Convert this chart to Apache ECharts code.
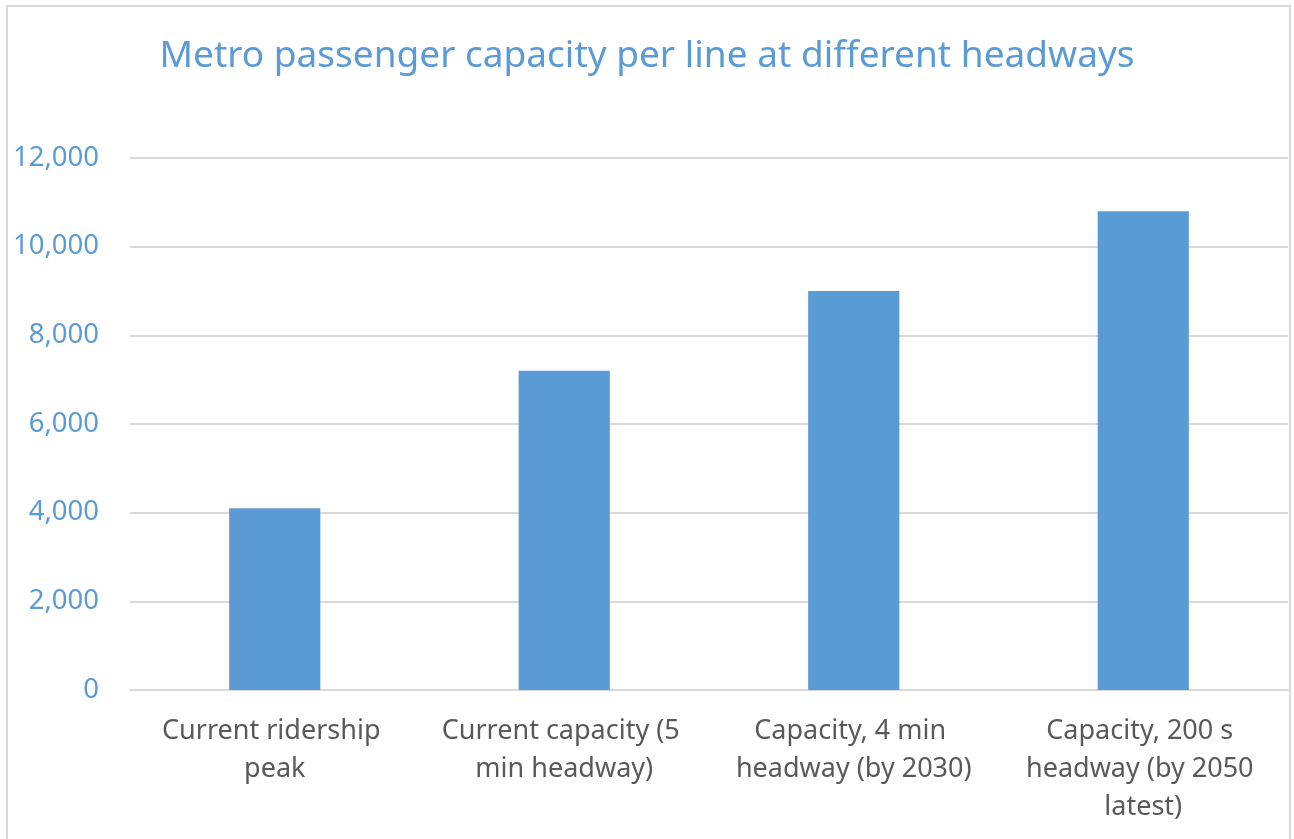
<!DOCTYPE html>
<html>
<head>
<meta charset="utf-8">
<style>
  html, body { margin: 0; padding: 0; background: #fff; }
  #chart { width: 1294px; height: 839px; }
</style>
<script src="https://cdn.jsdelivr.net/npm/echarts@6/dist/echarts.min.js"></script>
</head>
<body>
<div id="chart"></div>
<script>
const titleText = 'Metro passenger capacity per line at different headways'
const categories = [
  'Current ridership peak',
  'Current capacity (5 min headway)',
  'Capacity, 4 min headway (by 2030)',
  'Capacity, 200 s headway (by 2050 latest)',
]
const capacityValues = [4100, 7200, 9000, 10800]
const yTicks = [0, 2000, 4000, 6000, 8000, 10000, 12000]

const blue = '#5B9BD5'
const fontFamily = '"Noto Sans", "Open Sans", sans-serif'

const chart = echarts.init(document.getElementById('chart'))

chart.setOption({
  animation: false,
  backgroundColor: '#fff',
  title: {
    text: titleText,
    left: 'center',
    top: 33,
    textStyle: {
      color: blue,
      fontFamily,
      fontSize: 37,
      fontWeight: 'normal',
    },
  },
  graphic: [
    {
      type: 'rect',
      shape: { x: 7, y: 6, width: 1283, height: 850 },
      style: { fill: 'none', stroke: '#d9d9d9', lineWidth: 2 },
      silent: true,
    },
  ],
  grid: {
    left: 130,
    right: 6,
    top: 158,
    bottom: 149,
  },
  xAxis: {
    type: 'category',
    data: categories,
    axisLine: { show: true, lineStyle: { color: '#d9d9d9', width: 2 } },
    axisTick: { show: false },
    axisLabel: {
      interval: 0,
      margin: 22,
      color: '#595959',
      fontFamily,
      fontSize: 27,
      lineHeight: 38,
      width: 262,
      overflow: 'break',
    },
  },
  yAxis: {
    type: 'value',
    min: yTicks[0],
    max: yTicks[yTicks.length - 1],
    interval: 2000,
    axisLine: { show: false },
    axisTick: { show: false },
    splitLine: { lineStyle: { color: '#d9d9d9', width: 2 } },
    axisLabel: {
      margin: 31,
      color: blue,
      fontFamily,
      fontSize: 27.5,
      formatter: (v) => v.toLocaleString('en-US'),
    },
  },
  series: [
    {
      type: 'bar',
      data: capacityValues,
      barWidth: '31.5%',
      itemStyle: { color: blue },
      emphasis: { disabled: true },
    },
  ],
})
</script>
</body>
</html>
